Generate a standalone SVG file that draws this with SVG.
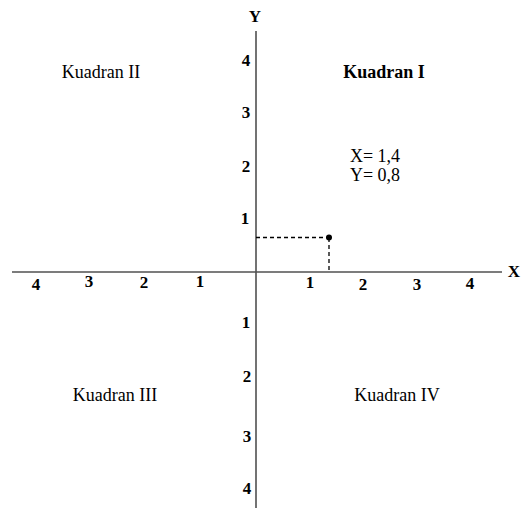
<svg xmlns="http://www.w3.org/2000/svg" width="522" height="508" viewBox="0 0 522 508">
<style>
.ax{stroke:#505050;stroke-width:1.6;fill:none}
.dash{stroke:#000;stroke-width:1.3;stroke-dasharray:4 3;fill:none}
.t{font-family:"Liberation Serif","Times New Roman",serif;font-size:17px;font-weight:bold;fill:#000;text-anchor:middle}
.q{font-family:"Liberation Serif","Times New Roman",serif;font-size:18px;fill:#000;text-anchor:middle}
.qb{font-weight:bold}
</style>
<rect width="522" height="508" fill="#fff"/>
<g id="axes">
<line class="ax" x1="256" y1="31" x2="256" y2="508"/>
<line class="ax" x1="12" y1="272" x2="502" y2="272"/>
<text class="t" x="255" y="22">Y</text>
<text class="t" x="514" y="277">X</text>
</g>
<g id="y-ticks">
<text class="t" x="246" y="66">4</text>
<text class="t" x="246" y="118">3</text>
<text class="t" x="246" y="172">2</text>
<text class="t" x="245" y="224">1</text>
<text class="t" x="246" y="328">1</text>
<text class="t" x="247" y="382">2</text>
<text class="t" x="247" y="442">3</text>
<text class="t" x="247" y="494">4</text>
</g>
<g id="x-ticks">
<text class="t" x="36" y="290">4</text>
<text class="t" x="89" y="287">3</text>
<text class="t" x="144" y="288">2</text>
<text class="t" x="200" y="287">1</text>
<text class="t" x="310" y="288">1</text>
<text class="t" x="363" y="290">2</text>
<text class="t" x="417" y="290">3</text>
<text class="t" x="470" y="289">4</text>
</g>
<g id="quadrants">
<text class="q" x="101" y="78">Kuadran II</text>
<text class="q qb" x="384" y="78">Kuadran I</text>
<text class="q" x="115" y="401">Kuadran III</text>
<text class="q" x="397" y="401">Kuadran IV</text>
</g>
<g id="point">
<line class="dash" x1="256" y1="237.5" x2="328" y2="237.5"/>
<line class="dash" x1="329" y1="238" x2="329" y2="272"/>
<circle cx="329" cy="237.5" r="3" fill="#000"/>
<text class="q" x="375" y="162">X= 1,4</text>
<text class="q" x="375" y="181">Y= 0,8</text>
</g>
</svg>
